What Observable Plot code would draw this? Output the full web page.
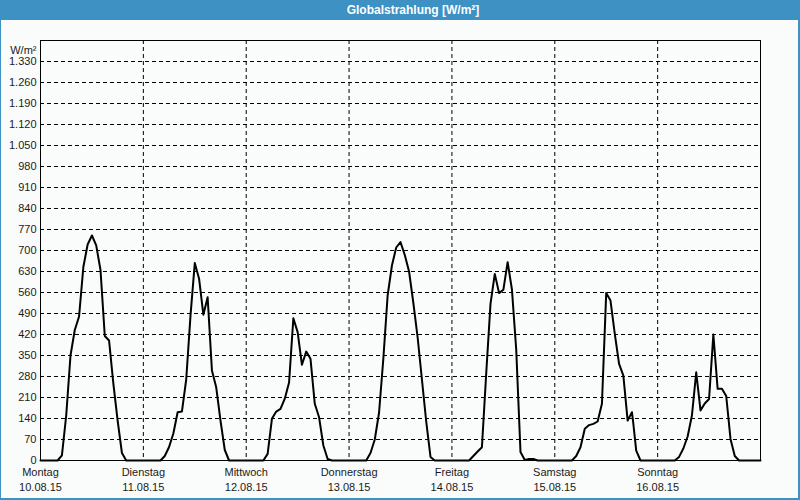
<!DOCTYPE html>
<html><head><meta charset="utf-8">
<script src="https://cdn.jsdelivr.net/npm/d3@7"></script>
<script src="https://cdn.jsdelivr.net/npm/@observablehq/plot@0.6"></script>
<style>
html,body{margin:0;padding:0;background:#fafcfb;}
#wrap{position:relative;width:800px;height:500px;background:#fafcfb;overflow:hidden;font-family:"Liberation Sans",sans-serif;}
#bar{position:absolute;left:0;top:0;width:800px;height:20px;background:#3d91c3;}
#title{position:absolute;top:0;left:413px;transform:translateX(-50%);line-height:20px;color:#fff;font-weight:bold;font-size:12px;white-space:nowrap;}
#chart{position:absolute;left:0;top:20px;}
#border{position:absolute;left:0;top:0;width:800px;height:500px;box-sizing:border-box;border:solid #3d91c3;border-width:0 2px 2px 1px;pointer-events:none;}
</style></head>
<body>
<div id="wrap">
  <div id="bar"><div id="title">Globalstrahlung [W/m²]</div></div>
  <div id="chart"></div>
  <div id="border"></div>
</div>
<script>
// Day labels
const dayNames = ["Montag","Dienstag","Mittwoch","Donnerstag","Freitag","Samstag","Sonntag"];
const dayDates = ["10.08.15","11.08.15","12.08.15","13.08.15","14.08.15","15.08.15","16.08.15"];
const unitLabel = "W/m²";
// Y tick values
const yTicks = [0,70,140,210,280,350,420,490,560,630,700,770,840,910,980,1050,1120,1190,1260,1330];

// Per-day readings: [hour of day, W/m²]
const mon = [[0,0],[4,0],[5,17],[6,150],[7,350],[8,435],[9,480],[10,645],[11,720],[12,750],[13,717],[14,635],[15,415],[16,400],[17,256],[18,133],[19,25],[20,0],[24,0]];
const tue = [[0,0],[4,0],[5,15],[6,45],[7,90],[8,161],[9,163],[10,270],[11,483],[12,658],[13,606],[14,486],[15,544],[16,300],[17,244],[18,133],[19,35],[20,0],[24,0]];
const wed = [[0,0],[4,0],[5,22],[6,139],[7,163],[8,172],[9,206],[10,260],[11,474],[12,428],[13,319],[14,363],[15,339],[16,189],[17,144],[18,50],[19,5],[20,0],[24,0]];
const thu = [[0,0],[4,0],[5,25],[6,70],[7,160],[8,340],[9,550],[10,650],[11,710],[12,728],[13,685],[14,630],[15,525],[16,410],[17,270],[18,130],[19,12],[20,0],[24,0]];
const fri = [[0,0],[4,0],[5,15],[6,30],[7,44],[8,290],[9,522],[10,622],[11,558],[12,569],[13,661],[14,570],[15,370],[16,28],[17,2],[18,5],[19,5],[20,0],[24,0]];
const sat = [[0,0],[4,0],[5,15],[6,44],[7,106],[8,118],[9,122],[10,130],[11,189],[12,558],[13,533],[14,422],[15,322],[16,283],[17,133],[18,161],[18.25,133],[19,33],[20,0],[24,0]];
const sun = [[0,0],[4,0],[5,12],[6,40],[7,80],[8,150],[9,294],[10,167],[11,190],[12,205],[13,420],[14,239],[15,239],[16,215],[17,72],[18,15],[19,0],[24,0]];

const days = [mon,tue,wed,thu,fri,sat,sun];
const rows = [];
days.forEach((d,i) => d.forEach(([h,v]) => rows.push({t: i*24 + h, v})));
const dayStarts = dayNames.map((_,i) => i*24);

const de = d3.formatLocale({decimal:",", thousands:".", grouping:[3], currency:["","€"]});
const fmt = de.format(",");

const chart = Plot.plot({
  width: 800, height: 480,
  marginLeft: 40, marginRight: 40, marginTop: 20, marginBottom: 40,
  x: {domain: [0, 168]},
  y: {domain: [0, 1400]},
  style: {fontFamily: "Liberation Sans, sans-serif", fontSize: "11px", background: "transparent", color: "#1a1a1a"},
  marks: [
    Plot.ruleY(yTicks.filter(v => v > 0), {stroke: "black", strokeWidth: 1, strokeDasharray: "4,3"}),
    Plot.ruleX(dayStarts.slice(1), {stroke: "black", strokeWidth: 1, strokeDasharray: "4,3"}),
    Plot.line(rows, {x: "t", y: "v", stroke: "black", strokeWidth: 2}),
    Plot.frame({stroke: "black", strokeWidth: 1}),
    Plot.axisY({ticks: yTicks, tickSize: 0, tickPadding: 4, tickFormat: fmt, label: null}),
    Plot.axisX({ticks: dayStarts, tickSize: 0, tickPadding: 8, tickFormat: t => dayNames[t/24], label: null}),
    Plot.axisX({ticks: dayStarts, tickSize: 0, tickPadding: 23, tickFormat: t => dayDates[t/24], label: null}),
    Plot.text([unitLabel], {frameAnchor: "top-left", textAnchor: "end", dx: -4, dy: 6})
  ]
});
document.getElementById("chart").appendChild(chart);
</script>
</body></html>
